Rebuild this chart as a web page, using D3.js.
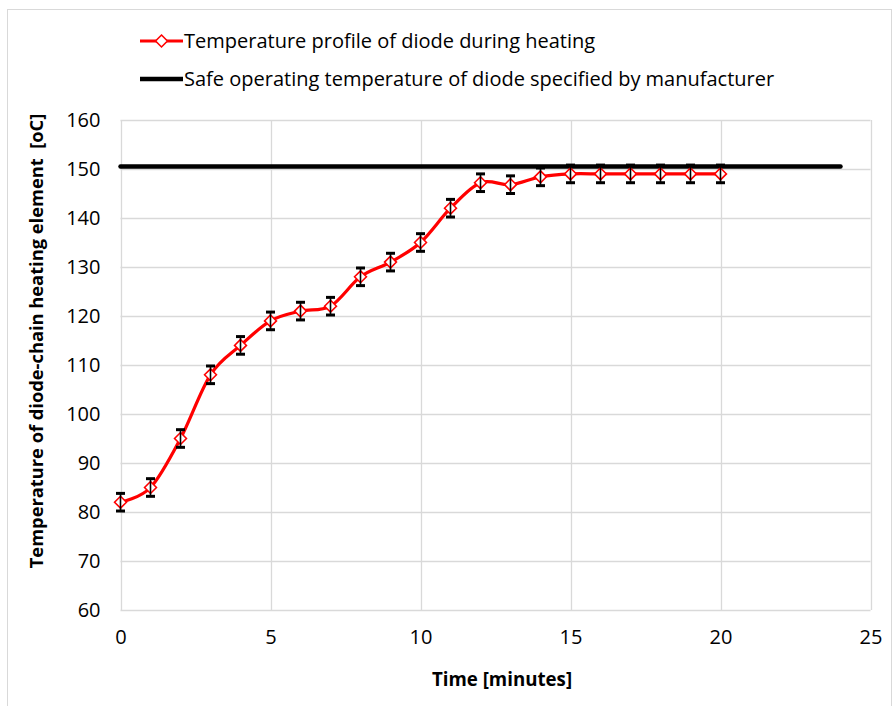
<!DOCTYPE html>
<html>
<head>
<meta charset="utf-8">
<script src="https://cdn.jsdelivr.net/npm/d3@7"></script>
<style>
  body { margin: 0; background: #fff; }
  svg { font-family: "Open Sans", "Liberation Sans", sans-serif; }
</style>
</head>
<body>
<div id="chart"></div>
<script>
// Chart data
const minutes = [0, 1, 2, 3, 4, 5, 6, 7, 8, 9, 10, 11, 12, 13, 14, 15, 16, 17, 18, 19, 20];
const temperature = [82, 85, 95, 108, 114, 119, 121, 122, 128, 131, 135, 142, 147.2, 146.8, 148.4, 149, 149, 149, 149, 149, 149];
const errorBar = 1.8;
const safeX = [0, 24];
const safeTemp = [150.5, 150.5];
const xTicks = [0, 5, 10, 15, 20, 25];
const yTicks = [60, 70, 80, 90, 100, 110, 120, 130, 140, 150, 160];
const legendLabels = ["Temperature profile of diode during heating",
                      "Safe operating temperature of diode specified by manufacturer"];

function init() {
    const width = 893;
    const height = 706;
    const plot = { left: 120.5, right: 870.5, top: 120, bottom: 610 };

    const svg = d3.select("#chart").append("svg")
                  .attr("width", width)
                  .attr("height", height);

    // outer chart frame
    svg.append("rect")
       .attr("x", 7.5).attr("y", 9.5)
       .attr("width", 884).attr("height", 720)
       .attr("fill", "none")
       .attr("stroke", "#d9d9d9");

    const x = d3.scaleLinear().domain([0, 25]).range([plot.left, plot.right]);
    const y = d3.scaleLinear().domain([60, 160]).range([plot.bottom, plot.top]);

    // gridlines
    svg.append("g")
       .selectAll("line.h")
       .data(yTicks)
       .enter().append("line")
       .attr("x1", plot.left).attr("x2", plot.right)
       .attr("y1", d => Math.round(y(d)) + 0.5).attr("y2", d => Math.round(y(d)) + 0.5)
       .attr("stroke", "#d9d9d9").attr("stroke-width", 1.3);

    svg.append("g")
       .selectAll("line.v")
       .data(xTicks)
       .enter().append("line")
       .attr("x1", d => Math.round(x(d)) + 0.5).attr("x2", d => Math.round(x(d)) + 0.5)
       .attr("y1", plot.top).attr("y2", plot.bottom)
       .attr("stroke", "#d9d9d9").attr("stroke-width", 1.3);

    // axis tick labels
    const yAxis = d3.axisLeft(y).tickValues(yTicks).tickSize(0).tickPadding(20);
    const gy = svg.append("g").attr("transform", `translate(${plot.left},0)`).call(yAxis);
    gy.select(".domain").remove();
    gy.selectAll("text").attr("font-size", 20).attr("fill", "#000")
      .attr("font-family", "Open Sans");

    const xAxis = d3.axisBottom(x).tickValues(xTicks).tickSize(0).tickPadding(20);
    const gx = svg.append("g").attr("transform", `translate(0,${plot.bottom})`).call(xAxis);
    gx.select(".domain").remove();
    gx.selectAll("text").attr("font-size", 20).attr("fill", "#000")
      .attr("font-family", "Open Sans");

    // axis titles
    svg.append("text")
       .attr("x", 502).attr("y", 686)
       .attr("text-anchor", "middle")
       .attr("font-size", 18.7).attr("font-weight", "bold")
       .text("Time [minutes]");

    svg.append("text")
       .attr("transform", "translate(43,341) rotate(-90)")
       .attr("text-anchor", "middle")
       .attr("font-size", 18.3).attr("font-weight", "bold")
       .attr("xml:space", "preserve")
       .text("Temperature of diode-chain heating element  [oC]");

    // safe temperature line
    const safeData = safeX.map((d, i) => [d, safeTemp[i]]);
    svg.append("path")
       .datum(safeData)
       .attr("d", d3.line().x(d => x(d[0])).y(d => y(d[1])))
       .attr("stroke", "#000").attr("stroke-width", 4.5)
       .attr("stroke-linecap", "round")
       .attr("fill", "none");

    // temperature curve
    const tempData = minutes.map((d, i) => [d, temperature[i]]);
    svg.append("path")
       .datum(tempData)
       .attr("d", d3.line().curve(d3.curveCatmullRom.alpha(0)).x(d => x(d[0])).y(d => y(d[1])))
       .attr("stroke", "#ff0000").attr("stroke-width", 3.2)
       .attr("fill", "none");

    const diamond = d3.symbol().type(d3.symbolDiamond2).size(90);

    // markers
    svg.append("g")
       .selectAll("path")
       .data(tempData)
       .enter().append("path")
       .attr("d", diamond)
       .attr("transform", d => `translate(${x(d[0])},${y(d[1])})`)
       .attr("fill", "#fff")
       .attr("stroke", "#ff0000").attr("stroke-width", 1.6);

    // error bars
    const eb = svg.append("g").attr("stroke", "#000");
    tempData.forEach(d => {
        const cx = x(d[0]);
        const y1 = y(d[1] + errorBar);
        const y2 = y(d[1] - errorBar);
        eb.append("line").attr("x1", cx).attr("x2", cx).attr("y1", y1).attr("y2", y2).attr("stroke-width", 1.6);
        eb.append("line").attr("x1", cx - 4.5).attr("x2", cx + 4.5).attr("y1", y1).attr("y2", y1).attr("stroke-width", 3);
        eb.append("line").attr("x1", cx - 4.5).attr("x2", cx + 4.5).attr("y1", y2).attr("y2", y2).attr("stroke-width", 3);
    });

    // legend
    const legend = svg.append("g");
    const ly = [41, 79];
    legend.append("line").attr("x1", 140).attr("x2", 183).attr("y1", ly[0]).attr("y2", ly[0])
          .attr("stroke", "#ff0000").attr("stroke-width", 3.2);
    legend.append("path").attr("d", diamond)
          .attr("transform", `translate(161.5,${ly[0]})`)
          .attr("fill", "#fff").attr("stroke", "#ff0000").attr("stroke-width", 1.6);
    legend.append("line").attr("x1", 140).attr("x2", 183).attr("y1", ly[1]).attr("y2", ly[1])
          .attr("stroke", "#000").attr("stroke-width", 4.5);

    legend.selectAll("text")
          .data(legendLabels)
          .enter().append("text")
          .attr("x", 184)
          .attr("y", (d, i) => ly[i])
          .attr("dy", "0.35em")
          .attr("font-size", 20)
          .text(d => d);
}

window.onload = init;
</script>
</body>
</html>
